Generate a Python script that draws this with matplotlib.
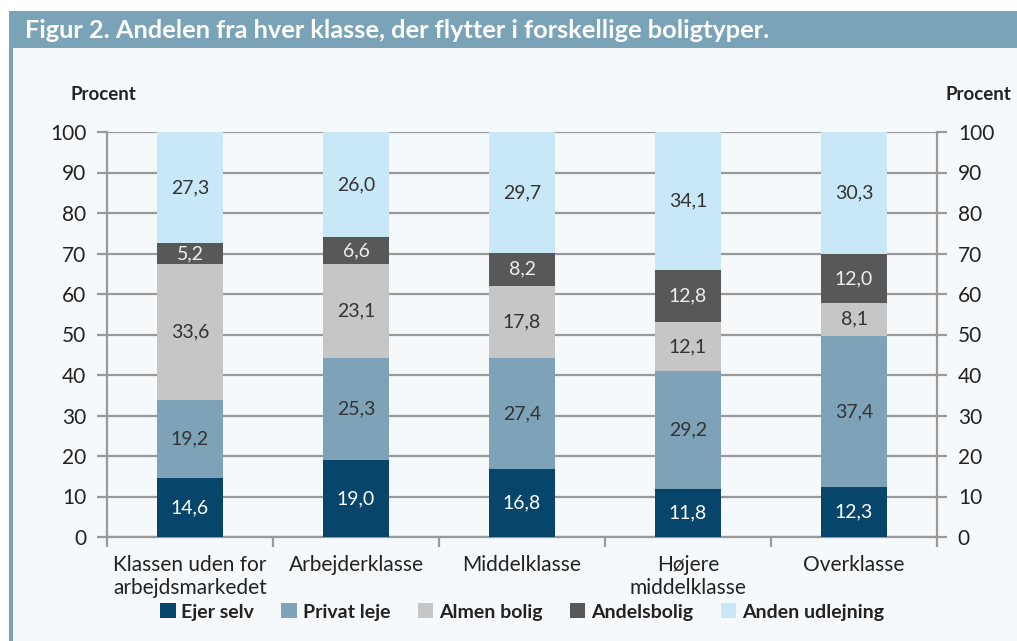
import numpy as np
import matplotlib
matplotlib.use("Agg")
import matplotlib.pyplot as plt
from matplotlib.patches import Rectangle

plt.rcParams['font.family'] = ['Lato', 'DejaVu Sans']

# Data
categories = ["Klassen uden for\narbejdsmarkedet", "Arbejderklasse", "Middelklasse",
              "Højere\nmiddelklasse", "Overklasse"]
series_names = ["Ejer selv", "Privat leje", "Almen bolig", "Andelsbolig", "Anden udlejning"]
ejer_selv = [14.6, 19.0, 16.8, 11.8, 12.3]
privat_leje = [19.2, 25.3, 27.4, 29.2, 37.4]
almen_bolig = [33.6, 23.1, 17.8, 12.1, 8.1]
andelsbolig = [5.2, 6.6, 8.2, 12.8, 12.0]
anden_udlejning = [27.3, 26.0, 29.7, 34.1, 30.3]
series = [ejer_selv, privat_leje, almen_bolig, andelsbolig, anden_udlejning]

colors = ["#08456b", "#7ea3b8", "#c6c6c6", "#585858", "#c8e8f8"]
text_colors = ["#ffffff", "#333333", "#333333", "#eeeeee", "#333333"]
bg = "#f5f9fc"
frame = "#7ba3b7"
grid_col = "#999999"

fig = plt.figure(figsize=(10.17, 6.41), dpi=100)
fig.patch.set_facecolor("white")

# light background panel and frame (behind the axes)
fig.patches.append(Rectangle((9 / 1017, 0), 1 - 9 / 1017, 1 - 11 / 641,
                             transform=fig.transFigure, facecolor=bg, edgecolor="none", zorder=-3))
fig.patches.append(Rectangle((9 / 1017, 0), 4 / 1017, 1 - 11 / 641,
                             transform=fig.transFigure, facecolor=frame, edgecolor="none", zorder=-2))
fig.patches.append(Rectangle((9 / 1017, 1 - 48 / 641), 1 - 9 / 1017, 37 / 641,
                             transform=fig.transFigure, facecolor=frame, edgecolor="none", zorder=-2))
fig.text(25 / 1017, 1 - 30 / 641, "Figur 2. Andelen fra hver klasse, der flytter i forskellige boligtyper.",
         color="white", fontsize=18.3, fontweight="bold", va="center", ha="left")

ax = fig.add_axes([107 / 1017, 1 - 537 / 641, 830 / 1017, 405 / 641])
ax.set_facecolor("none")

x = np.arange(len(categories))
bottom = np.zeros(len(categories))
for vals, name, col, tcol in zip(series, series_names, colors, text_colors):
    vals = np.array(vals)
    ax.bar(x, vals, width=0.4, bottom=bottom, color=col, label=name, zorder=3)
    for xi, b, v in zip(x, bottom, vals):
        ax.text(xi, b + v / 2, f"{v:.1f}".replace(".", ","), ha="center", va="center",
                color=tcol, fontsize=14, fontweight="normal", zorder=4)
    bottom += vals

ax.set_xlim(-0.5, len(categories) - 0.5)
ax.set_ylim(0, 100)
ax.set_yticks(np.arange(0, 101, 10))
ax.yaxis.grid(True, color=grid_col, linewidth=1.6, zorder=0)
ax.set_axisbelow(True)

for s in ["left", "right", "bottom"]:
    ax.spines[s].set_color(grid_col)
    ax.spines[s].set_linewidth(1.6)
ax.spines["top"].set_visible(False)

ax.tick_params(axis="y", which="both", length=7, width=1.6, color=grid_col,
               labelsize=15, labelcolor="#222222", left=True, right=True,
               labelleft=True, labelright=True, pad=8)

ax.set_xticks(np.arange(-0.5, len(categories), 1.0))
ax.set_xticklabels([])
ax.set_xticks(x, minor=True)
ax.set_xticklabels(categories, minor=True, fontsize=15, color="#222222", linespacing=1.2)
ax.tick_params(axis="x", which="major", length=7, width=1.6, color=grid_col)
ax.tick_params(axis="x", which="minor", length=0, pad=13)

fig.text(103 / 1017, 1 - 95 / 641, "Procent", fontsize=13.5, fontweight="bold",
         color="#222222", ha="center", va="center")
fig.text(978 / 1017, 1 - 95 / 641, "Procent", fontsize=13.5, fontweight="bold",
         color="#222222", ha="center", va="center")

handles, labels = ax.get_legend_handles_labels()
leg = fig.legend(handles, labels, loc="center", bbox_to_anchor=(522 / 1017, 1 - 612 / 641),
                 ncol=5, frameon=False, handlelength=0.8, handleheight=0.8,
                 handletextpad=0.3, columnspacing=1.4,
                 prop={"size": 14, "weight": "bold"})
for t in leg.get_texts():
    t.set_color("#222222")

fig.savefig("out.png", dpi=100, facecolor=fig.get_facecolor())
